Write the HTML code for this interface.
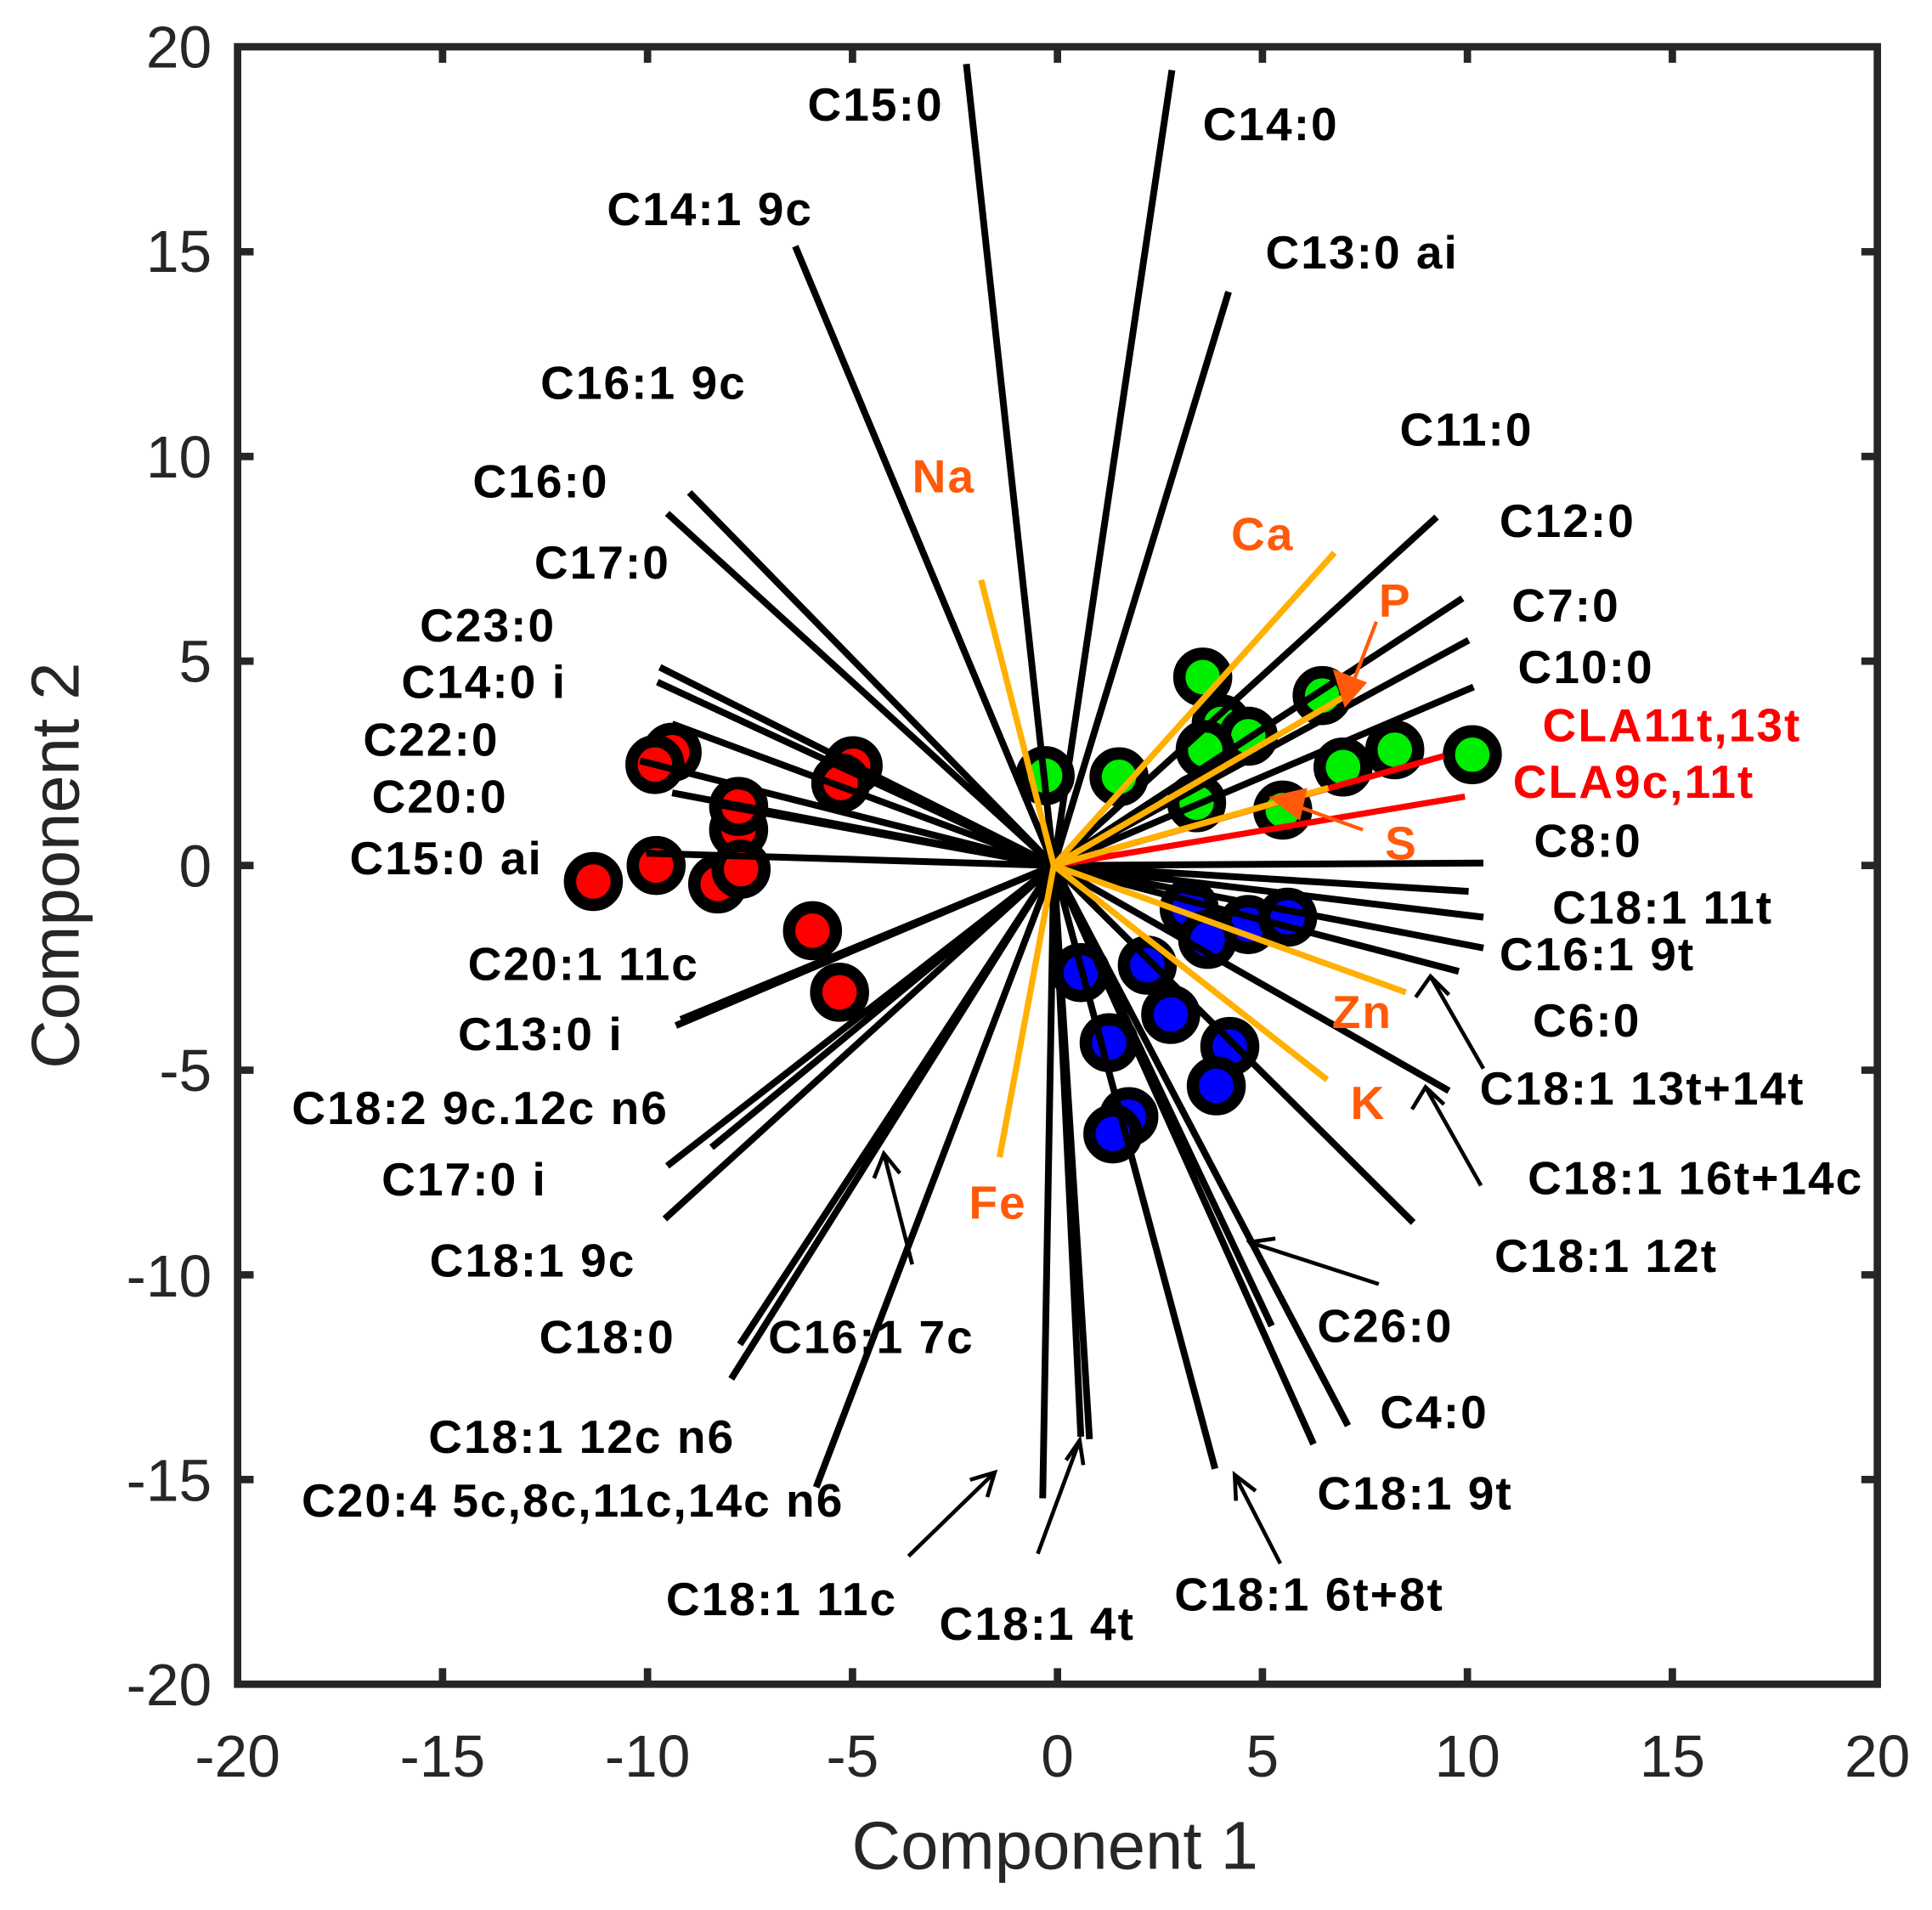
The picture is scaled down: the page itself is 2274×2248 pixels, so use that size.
<!DOCTYPE html>
<html><head><meta charset="utf-8"><style>html,body{margin:0;padding:0;background:#fff}svg{display:block}</style></head>
<body>
<svg width="2274" height="2248" viewBox="0 0 1569.4 1551.4" preserveAspectRatio="none" xmlns="http://www.w3.org/2000/svg" font-family="Liberation Sans, Arial, sans-serif">
<rect x="0" y="0" width="1569.4" height="1551.4" fill="#fff"/>
<g stroke="#000" stroke-width="10">
<g fill="#ff0000">
<circle cx="546" cy="611" r="19"/><circle cx="532" cy="621" r="19"/><circle cx="600" cy="674" r="19"/><circle cx="600" cy="655" r="19"/>
<circle cx="693" cy="622" r="19"/><circle cx="683" cy="636" r="19"/><circle cx="533" cy="703" r="19"/><circle cx="583" cy="718" r="19"/>
<circle cx="602" cy="706" r="19"/><circle cx="482" cy="716" r="19"/><circle cx="660" cy="756" r="19"/><circle cx="682" cy="806" r="19"/>
</g>
<g fill="#00ee00">
<circle cx="977" cy="550" r="19"/><circle cx="849" cy="630" r="19"/><circle cx="909" cy="631" r="19"/><circle cx="992" cy="588" r="19"/>
<circle cx="1014" cy="598" r="19"/><circle cx="979" cy="609" r="19"/><circle cx="972" cy="652" r="19"/><circle cx="1074" cy="565" r="19"/>
<circle cx="1091" cy="623" r="19"/><circle cx="1133" cy="609" r="19"/><circle cx="1196" cy="613" r="19"/><circle cx="1042" cy="658" r="19"/>
</g>
<g fill="#0000ff">
<circle cx="966" cy="738" r="19"/><circle cx="1014" cy="751" r="19"/><circle cx="1046" cy="745" r="19"/><circle cx="981" cy="763" r="19"/>
<circle cx="878" cy="790" r="19"/><circle cx="932" cy="784" r="19"/><circle cx="951" cy="824" r="19"/><circle cx="901" cy="847" r="19"/>
<circle cx="999" cy="850" r="19"/><circle cx="988" cy="882" r="19"/><circle cx="917" cy="907" r="19"/><circle cx="904" cy="921" r="19"/>
</g>
</g>
<g stroke="#000" stroke-width="5.5" fill="none">
<path d="M856 703L785 52M856 703L952 57M856 703L998 237M856 703L646 200M856 703L560 400M856 703L542 417
M856 703L1167 420M856 703L1188 486M856 703L1193 520M856 703L1197 558M856 703L1205 701M856 703L1193 724M856 703L1205 745M856 703L1205 770M856 703L1185 789M856 703L1177 886M856 703L1148 993
M856 703L1033 1077M856 703L1095 1158M856 703L1067 1173M856 703L987 1193M856 703L885 1169M856 703L878 1167M856 703L847 1217
M856 703L663 1208M856 703L594 1120M856 703L601 1092M856 703L540 990M856 703L542 947M856 703L578 932M856 703L549 833M856 703L553 828
M856 703L536 542M856 703L534 554M856 703L546 588M856 703L520 618M856 703L546 644M856 703L586 654M856 703L525 693"/>
</g>
<g stroke="#ff0000" stroke-width="5" fill="none"><path d="M856 703L1173 614M856 703L1190 647"/></g>
<g stroke="#ffb000" stroke-width="5" fill="none">
<path d="M856 703L797 471M856 703L1084 449M856 703L1102 560M856 703L1079 640M856 703L1142 806M856 703L1078 877M856 703L812 940"/>
</g>
<g stroke="#ff5a0a" stroke-width="3" fill="#ff5a0a">
<path d="M1118 505L1095 565" fill="none"/><path d="M1093 572L1085 546L1108 555Z"/>
<path d="M1107 674L1040 650" fill="none"/><path d="M1034 648L1060 642L1055 664Z"/>
</g>
<g stroke="#000" stroke-width="3.2" fill="none">
<path d="M1205 868L1162 793M1150 810L1162 793L1177 808"/>
<path d="M1203 963L1158 883M1147 901L1158 883L1173 897"/>
<path d="M1120 1043L1015 1009M1027 1026L1015 1009L1036 1006"/>
<path d="M741 1027L718 937M710 957L718 937L731 953"/>
<path d="M738 1264L808 1196M788 1202L808 1196L802 1216"/>
<path d="M843 1262L877 1170M866 1186L877 1170L880 1190"/>
<path d="M1040 1270L1003 1198M1004 1219L1003 1198L1020 1211"/>
</g>
<g stroke="#262626" stroke-width="6" fill="none">
<rect x="193" y="38" width="1332" height="1330"/>
<path d="M359.5 38v13M526 38v13M692.5 38v13M859 38v13M1025.5 38v13M1192 38v13M1358.5 38v13
M359.5 1368v-13M526 1368v-13M692.5 1368v-13M859 1368v-13M1025.5 1368v-13M1192 1368v-13M1358.5 1368v-13
M193 204.5h13M193 370.75h13M193 537h13M193 703h13M193 869.25h13M193 1035.5h13M193 1201.75h13
M1525 204.5h-13M1525 370.75h-13M1525 537h-13M1525 703h-13M1525 869.25h-13M1525 1035.5h-13M1525 1201.75h-13"/>
</g>
<g fill="#262626" font-size="48">
<g text-anchor="end">
<text x="172" y="55">20</text><text x="172" y="221">15</text><text x="172" y="388">10</text><text x="172" y="554">5</text>
<text x="172" y="720">0</text><text x="172" y="886">-5</text><text x="172" y="1053">-10</text><text x="172" y="1219">-15</text><text x="172" y="1385">-20</text>
</g>
<g text-anchor="middle">
<text x="193" y="1443">-20</text><text x="359.5" y="1443">-15</text><text x="526" y="1443">-10</text><text x="692.5" y="1443">-5</text>
<text x="859" y="1443">0</text><text x="1025.5" y="1443">5</text><text x="1192" y="1443">10</text><text x="1358.5" y="1443">15</text><text x="1525" y="1443">20</text>
</g>
<text x="857" y="1518" font-size="55" text-anchor="middle">Component 1</text>
<text transform="translate(64 703) rotate(-90)" font-size="55" text-anchor="middle">Component 2</text>
</g>
<g font-size="38" font-weight="bold" fill="#000" letter-spacing="1.4">
<text x="656" y="98">C15:0</text>
<text x="977" y="114">C14:0</text>
<text x="493" y="183">C14:1 9c</text>
<text x="1028" y="218">C13:0 ai</text>
<text x="439" y="324">C16:1 9c</text>
<text x="1137" y="362">C11:0</text>
<text x="384" y="404">C16:0</text>
<text x="1218" y="436">C12:0</text>
<text x="434" y="470">C17:0</text>
<text x="1228" y="505">C7:0</text>
<text x="341" y="521">C23:0</text>
<text x="1233" y="555">C10:0</text>
<text x="326" y="567">C14:0 i</text>
<text x="295" y="614">C22:0</text>
<text x="302" y="660">C20:0</text>
<text x="1246" y="696">C8:0</text>
<text x="284" y="710">C15:0 ai</text>
<text x="1261" y="750">C18:1 11t</text>
<text x="1218" y="788">C16:1 9t</text>
<text x="380" y="796">C20:1 11c</text>
<text x="1245" y="842">C6:0</text>
<text x="372" y="853">C13:0 i</text>
<text x="1202" y="897">C18:1 13t+14t</text>
<text x="237" y="913">C18:2 9c.12c n6</text>
<text x="1241" y="970">C18:1 16t+14c</text>
<text x="310" y="971">C17:0 i</text>
<text x="1214" y="1033">C18:1 12t</text>
<text x="349" y="1037">C18:1 9c</text>
<text x="1070" y="1090">C26:0</text>
<text x="438" y="1099">C18:0</text>
<text x="624" y="1099">C16:1 7c</text>
<text x="1121" y="1160">C4:0</text>
<text x="348" y="1180">C18:1 12c n6</text>
<text x="1070" y="1226">C18:1 9t</text>
<text x="245" y="1232">C20:4 5c,8c,11c,14c n6</text>
<text x="954" y="1308">C18:1 6t+8t</text>
<text x="541" y="1312">C18:1 11c</text>
<text x="763" y="1332">C18:1 4t</text>
<g fill="#ff0000"><text x="1253" y="602">CLA11t,13t</text><text x="1229" y="648">CLA9c,11t</text></g>
<g fill="#ff5a0a">
<text x="741" y="400">Na</text><text x="1000" y="447">Ca</text><text x="1120" y="501">P</text><text x="1125" y="698">S</text>
<text x="1082" y="835">Zn</text><text x="1097" y="909">K</text><text x="787" y="990">Fe</text>
</g>
</g>
</svg>
</body></html>
